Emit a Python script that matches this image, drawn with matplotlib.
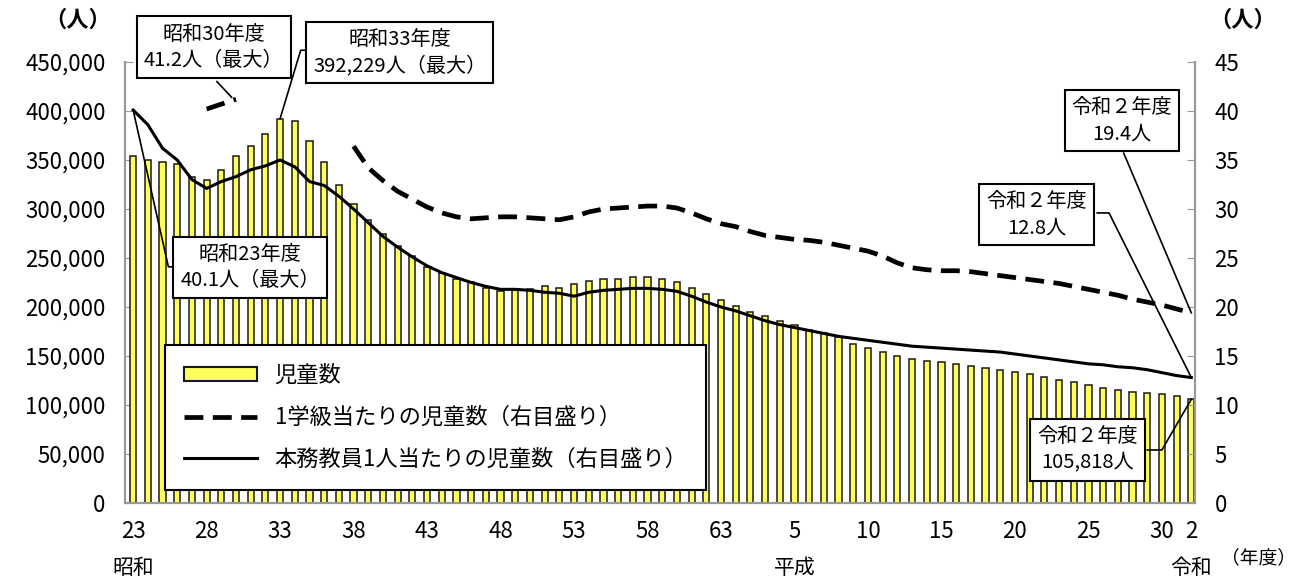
import numpy as np
import matplotlib
matplotlib.use("Agg")
import matplotlib.pyplot as plt
from matplotlib.patches import Patch
from matplotlib.lines import Line2D
from matplotlib.ticker import FuncFormatter
import matplotlib.transforms as mtransforms

plt.rcParams['font.family'] = ['Noto Sans CJK JP', 'DejaVu Sans']

# fiscal years 昭和23 (1948) .. 令和2 (2020)
years = list(range(1948, 2021))

pupils = [
    354000, 350000, 348000, 346000, 333000, 330000, 340000, 354000, 364000, 377000,
    392229, 390000, 369000, 348000, 324000, 305000, 289000, 274000, 262000, 252000,
    241000, 235000, 229000, 225000, 219000, 216000, 218000, 218000, 221000, 219000,
    223000, 227000, 229000, 229000, 231000, 231000, 229000, 225000, 219000, 213000,
    207000, 201000, 195000, 191000, 186000, 182000, 177000, 173000, 169000, 162000,
    158000, 154000, 150000, 147000, 145000, 144000, 142000, 140000, 138000, 136000,
    134000, 132000, 129000, 126000, 123000, 120000, 117000, 115000, 113000, 112500,
    111000, 109000, 105818,
]

per_class = [
    None, None, None, None, None, 40.2, 40.7, 41.2, None, None,
    None, None, None, None, None, 36.4, 34.2, 32.9, 31.8, 31.0,
    30.2, 29.6, 29.2, 29.0, 29.1, 29.2, 29.2, 29.1, 29.0, 28.9,
    29.2, 29.7, 30.0, 30.1, 30.2, 30.3, 30.3, 30.1, 29.6, 29.0,
    28.5, 28.2, 27.7, 27.3, 27.1, 26.9, 26.8, 26.6, 26.3, 26.0,
    25.7, 25.2, 24.5, 24.0, 23.8, 23.7, 23.7, 23.6, 23.4, 23.2,
    23.0, 22.8, 22.6, 22.4, 22.1, 21.8, 21.5, 21.2, 20.8, 20.5,
    20.2, 19.8, 19.4,
]

per_teacher = [
    40.1, 38.6, 36.2, 35.0, 33.0, 32.1, 32.8, 33.3, 34.0, 34.4,
    35.0, 34.3, 32.8, 32.4, 31.3, 30.0, 28.6, 27.2, 26.1, 25.1,
    24.2, 23.5, 23.0, 22.5, 22.1, 21.8, 21.8, 21.7, 21.5, 21.4,
    21.1, 21.5, 21.7, 21.8, 21.9, 21.9, 21.8, 21.6, 21.1, 20.5,
    20.0, 19.6, 19.1, 18.6, 18.2, 17.9, 17.6, 17.3, 17.0, 16.8,
    16.6, 16.4, 16.2, 16.0, 15.9, 15.8, 15.7, 15.6, 15.5, 15.4,
    15.2, 15.0, 14.8, 14.6, 14.4, 14.2, 14.1, 13.9, 13.8, 13.6,
    13.3, 13.0, 12.8,
]

tick_years = [1948, 1953, 1958, 1963, 1968, 1973, 1978, 1983, 1988,
              1993, 1998, 2003, 2008, 2013, 2018, 2020]
tick_labels = ['23', '28', '33', '38', '43', '48', '53', '58', '63',
               '5', '10', '15', '20', '25', '30', '2']
eras = [(1948, '昭和'), (1993, '平成'), (2020, '令和')]

x = np.arange(len(years))
cls = np.array([np.nan if v is None else v for v in per_class])
tch = np.array(per_teacher)

fig = plt.figure(figsize=(13.08, 5.8), dpi=100)
ax = fig.add_axes([0.0956, 0.1328, 0.818, 0.7603])
ax2 = ax.twinx()

ax.bar(x, pupils, width=0.42, color='#FFFF5C', edgecolor='#1a1a1a', linewidth=1.1, zorder=2)
ax2.plot(x, cls, color='black', lw=3.4, linestyle=(0, (4, 2)), zorder=3)
ax2.plot(x, tch, color='black', lw=2.2, zorder=3)

ax.set_xlim(-0.55, len(years) - 0.75)
ax.set_ylim(0, 450000)
ax2.set_ylim(0, 45)
ax.set_yticks(np.arange(0, 450001, 50000))
ax2.set_yticks(np.arange(0, 46, 5))
ax.yaxis.set_major_formatter(FuncFormatter(lambda v, p: f'{v:,.0f}'))

ax.set_xticks([years.index(y) for y in tick_years])
ax.set_xticklabels(tick_labels)

for a in (ax, ax2):
    a.spines['top'].set_visible(False)
    for s in ('left', 'right', 'bottom'):
        a.spines[s].set_color('#999999')
        a.spines[s].set_linewidth(1.5)
ax.tick_params(axis='y', direction='in', length=6, color='#999999', labelsize=16, pad=14)
ax2.tick_params(axis='y', direction='in', length=6, color='#999999', labelsize=16, pad=14)
ax.tick_params(axis='x', length=0, labelsize=16, pad=12)

# era names under the year ticks
trans = mtransforms.blended_transform_factory(ax.transData, ax.transAxes)
for yr, name in eras:
    ax.text(years.index(yr), -0.147, name, transform=trans, ha='center', va='center', fontsize=15)
fig.text(0.962, 0.038, '（年度）', ha='center', va='center', fontsize=13.5)
fig.text(0.059, 0.965, '（人）', ha='center', va='center', fontsize=16, fontweight='bold')
fig.text(0.950, 0.965, '（人）', ha='center', va='center', fontsize=16, fontweight='bold')

# legend
handles = [Patch(facecolor='#FFFF5C', edgecolor='#1a1a1a', linewidth=1.5),
           Line2D([], [], color='black', lw=3.4, linestyle=(0, (4, 2))),
           Line2D([], [], color='black', lw=2.2)]
labels = ['児童数', '1学級当たりの児童数（右目盛り）', '本務教員1人当たりの児童数（右目盛り）']
leg = ax2.legend(handles, labels, loc='lower left', bbox_to_anchor=(0.037, 0.03),
                 borderaxespad=0, fontsize=16, handlelength=3.3, handleheight=0.6,
                 labelspacing=0.85, borderpad=0.85, frameon=True, fancybox=False,
                 framealpha=1)
leg.get_frame().set_edgecolor('black')
leg.get_frame().set_linewidth(1.5)
leg.set_zorder(10)

# callouts (drawn on right axis scale)
ratio = 45 / 450000
box = dict(boxstyle='square,pad=0.35', fc='white', ec='black', lw=1.5)
i30 = years.index(1955)
i33 = years.index(1958)
i23 = years.index(1948)
iend = years.index(2020)

def callout(tx, ty, text, path):
    ax2.text(tx, ty, text, ha='center', va='center', fontsize=14.5, bbox=box,
             linespacing=1.35, zorder=12, clip_on=False)
    px, py = zip(*path)
    ax2.plot(px, py, color='black', lw=1.2, zorder=11, clip_on=False)

callout(5.48, 46.5, '昭和30年度\n41.2人（最大）',
        [(5.7, 43.0), (i30 - 0.3, cls[i30] + 0.2)])
callout(18.14, 45.97, '昭和33年度\n392,229人（最大）',
        [(12.2, 46.2), (11.4, 46.2), (i33, pupils[i33] * ratio)])
callout(7.96, 24.03, '昭和23年度\n40.1人（最大）',
        [(3.2, 24.1), (2.4, 24.1), (i23, tch[i23])])
callout(67.29, 39.03, '令和２年度\n19.4人',
        [(67.4, 35.7), (iend, cls[iend])])
callout(61.47, 29.44, '令和２年度\n12.8人',
        [(65.6, 29.6), (66.4, 29.6), (iend, tch[iend])])
callout(64.94, 5.41, '令和２年度\n105,818人',
        [(69.0, 5.41), (70.0, 5.41), (iend, pupils[iend] * ratio)])

fig.savefig('out.png', dpi=100)
